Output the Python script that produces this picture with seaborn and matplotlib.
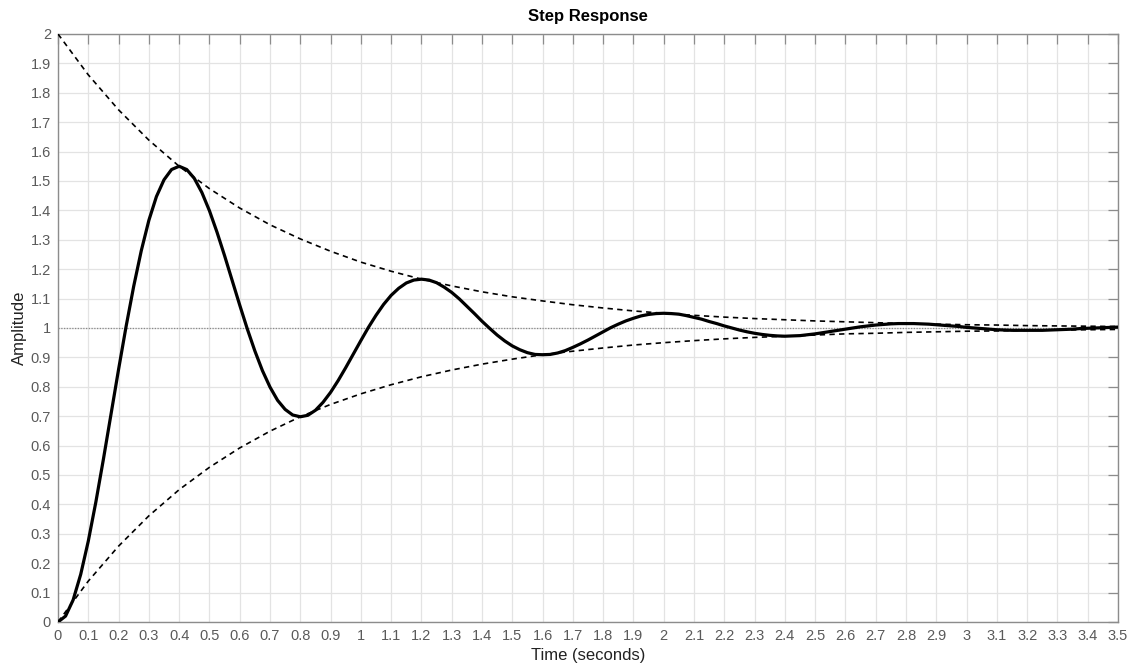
import numpy as np
import pandas as pd
import matplotlib
matplotlib.use('Agg')
import matplotlib.pyplot as plt
import seaborn as sns

# ── Data ─────────────────────────────────────────────────────────────────────
# step response, sampled every 0.025 s
t_resp = np.round(np.arange(0, 3.5001, 0.025), 3)
amp = [0.000, 0.020, 0.075, 0.162, 0.275, 0.408, 0.554, 0.706, 0.859, 1.006,
       1.142, 1.263, 1.366, 1.447, 1.504, 1.539, 1.550, 1.539, 1.509, 1.461,
       1.399, 1.326, 1.246, 1.162, 1.078, 0.997, 0.922, 0.855, 0.799, 0.754,
       0.723, 0.704, 0.698, 0.703, 0.720, 0.747, 0.781, 0.821, 0.865, 0.911,
       0.957, 1.002, 1.043, 1.080, 1.111, 1.135, 1.153, 1.163, 1.166, 1.163,
       1.154, 1.139, 1.121, 1.099, 1.074, 1.049, 1.023, 0.999, 0.976, 0.956,
       0.939, 0.926, 0.916, 0.910, 0.909, 0.910, 0.915, 0.923, 0.934, 0.946,
       0.959, 0.973, 0.987, 1.001, 1.013, 1.024, 1.033, 1.041, 1.046, 1.049,
       1.050, 1.049, 1.047, 1.042, 1.036, 1.030, 1.022, 1.015, 1.007, 1.000,
       0.993, 0.987, 0.982, 0.978, 0.975, 0.973, 0.972, 0.973, 0.974, 0.977,
       0.980, 0.984, 0.988, 0.992, 0.996, 1.000, 1.004, 1.007, 1.010, 1.012,
       1.014, 1.015, 1.015, 1.015, 1.014, 1.013, 1.011, 1.009, 1.007, 1.005,
       1.002, 1.000, 0.998, 0.996, 0.994, 0.993, 0.992, 0.992, 0.992, 0.992,
       0.992, 0.993, 0.994, 0.995, 0.996, 0.998, 0.999, 1.000, 1.001, 1.002,
       1.003]

# decay envelopes, sampled every 0.1 s
t_env = np.round(np.arange(0, 3.5001, 0.1), 1)
env_upper = [2.000, 1.861, 1.742, 1.639, 1.550, 1.474, 1.408, 1.351, 1.303, 1.261,
             1.224, 1.193, 1.166, 1.143, 1.123, 1.106, 1.092, 1.079, 1.068, 1.058,
             1.050, 1.043, 1.037, 1.032, 1.028, 1.024, 1.021, 1.018, 1.015, 1.013,
             1.011, 1.010, 1.008, 1.007, 1.006, 1.005]
env_lower = [0.000, 0.139, 0.258, 0.361, 0.450, 0.526, 0.592, 0.649, 0.698, 0.740,
             0.776, 0.807, 0.834, 0.857, 0.877, 0.894, 0.909, 0.921, 0.932, 0.942,
             0.950, 0.957, 0.963, 0.968, 0.972, 0.976, 0.980, 0.982, 0.985, 0.987,
             0.989, 0.990, 0.992, 0.993, 0.994, 0.995]

steady_state = 1.0
x_ticks = np.round(np.arange(0, 3.5001, 0.1), 1)
y_ticks = np.round(np.arange(0, 2.0001, 0.1), 1)

# ── Style ────────────────────────────────────────────────────────────────────
sns.set_style('white')
plt.rcParams['font.family'] = ['Liberation Sans', 'DejaVu Sans']
AXC = '#8c8c8c'; TXT = '#5a5a5a'

df_resp = pd.DataFrame({'t': t_resp, 'y': amp})
df_env = pd.DataFrame({'t': t_env, 'upper': env_upper, 'lower': env_lower})

fig = plt.figure(figsize=(11.35, 6.65), dpi=100)
ax = fig.add_axes([0.0511, 0.0647, 0.9339, 0.8842])

ax.axhline(steady_state, color='#8a8a8a', lw=0.9, ls=(0, (1, 1.2)), zorder=2)
sns.lineplot(data=df_env, x='t', y='upper', ax=ax, color='black', lw=1.2,
             linestyle=(0, (3.2, 2.6)), zorder=3)
sns.lineplot(data=df_env, x='t', y='lower', ax=ax, color='black', lw=1.2,
             linestyle=(0, (3.2, 2.6)), zorder=3)
sns.lineplot(data=df_resp, x='t', y='y', ax=ax, color='black', lw=2.3,
             zorder=4)

ax.set_xlim(0, 3.5); ax.set_ylim(0, 2)
ax.set_xticks(x_ticks); ax.set_xticklabels([f'{v:g}' for v in x_ticks])
ax.set_yticks(y_ticks); ax.set_yticklabels([f'{v:g}' for v in y_ticks])
ax.grid(True, color='#e3e3e3', lw=0.9)
ax.tick_params(direction='in', length=7.5, width=0.9, color=AXC,
               labelcolor=TXT, labelsize=10.5, top=True, right=True, pad=5)
for s in ax.spines.values():
    s.set_color(AXC); s.set_linewidth(1.0)

ax.set_title('Step Response', fontsize=12, fontweight='bold', color='black', pad=9.5)
ax.set_xlabel('Time (seconds)', fontsize=12, color='#222222', labelpad=4)
ax.set_ylabel('Amplitude', fontsize=12, color='#222222', labelpad=3)

plt.savefig('out.png', dpi=100)
plt.close()
